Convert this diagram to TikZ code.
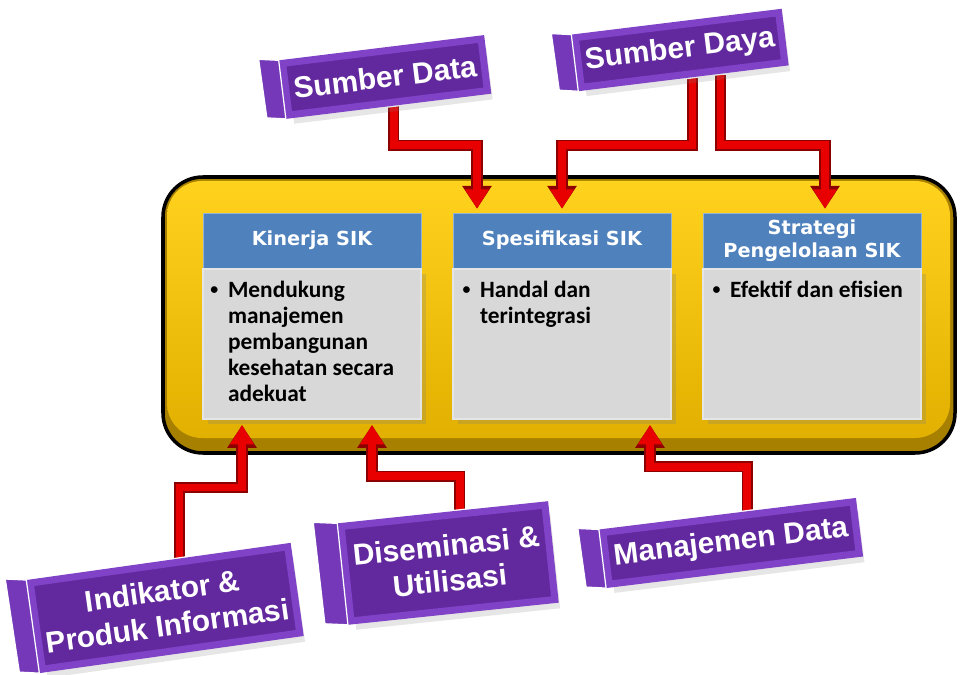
\documentclass[tikz,border=0pt]{standalone}
\usepackage{fontspec}
\setmainfont{Carlito}
\newfontfamily\headfont{DejaVu Sans}
\newfontfamily\boxfont{Liberation Sans}
\usetikzlibrary{calc,positioning,arrows.meta,shadows}

\definecolor{goldA}{RGB}{255,210,30}
\definecolor{goldB}{RGB}{226,176,0}
\definecolor{goldC}{RGB}{168,128,0}
\definecolor{headblue}{RGB}{79,129,189}
\definecolor{bodygray}{RGB}{216,216,216}
\definecolor{arrowred}{RGB}{232,0,0}
\definecolor{arrowdark}{RGB}{140,0,0}
\definecolor{bevel}{RGB}{128,66,198}
\definecolor{plate}{RGB}{98,40,158}
\definecolor{slabpurple}{RGB}{116,56,184}

\newcommand{\bul}{\makebox[10pt][l]{\raisebox{1.3pt}{\fontsize{9}{9}\selectfont\textbullet}}}
\newcommand{\ind}{\hspace*{10pt}}

\pgfdeclarelayer{bg}
\pgfdeclarelayer{mid}
\pgfsetlayers{bg,mid,main}

\begin{document}
\begin{tikzpicture}[x=0.02cm,y=-0.02cm,
	head/.style={rectangle,fill=headblue,draw=headblue!60!white,minimum width=4.36cm,
		minimum height=1.1cm,inner sep=0pt,align=center,text=white,
		font=\headfont\bfseries\fontsize{11}{13}\selectfont},
	body/.style={rectangle,fill=bodygray,draw=white!80!gray,line width=1pt,
		minimum width=4.36cm,minimum height=3cm,inner sep=0pt,
		drop shadow={opacity=0.25,shadow xshift=3pt,shadow yshift=-3pt}},
	point/.style={anchor=north west,inner sep=0pt,align=left,
		font=\bfseries\fontsize{13.3}{14.8}\selectfont},
	plaque/.style={rectangle,fill=plate,draw=bevel,line width=4pt,
		preaction={draw=white,line width=5.5pt},inner sep=2pt,align=center,text=white,
		font=\boxfont\bfseries\fontsize{17}{20}\selectfont,
		drop shadow={opacity=0.2,shadow xshift=3pt,shadow yshift=-5pt}},
	slab/.style={fill=slabpurple,draw=white,line width=0.7pt,line join=round},
	flow/.style={draw=arrowred,line width=4.5pt,line join=miter,
		-{Triangle[width=13pt,length=11pt]},
		preaction={draw=arrowdark,line width=6.5pt,-{Triangle[width=16pt,length=13pt]}}}]

	\useasboundingbox (0,0) rectangle (960,675);

	% yellow frame
	\begin{pgfonlayer}{bg}
		\draw[fill=goldC,line width=2pt,rounded corners=0.8cm] (163,177) rectangle (955,453);
		\shade[top color=goldA,bottom color=goldB,rounded corners=0.7cm] (167,181) rectangle (950,438);
	\end{pgfonlayer}

	% three panels
	\node[head] (kin) at (312,240.5) {Kinerja SIK};
	\node[body,below=0pt of kin] (kinb) {};
	\node[point] (kint) at ($(kinb.north west)+(8,12)$)
		{\bul Mendukung\\\ind manajemen\\\ind pembangunan\\\ind kesehatan secara\\\ind adekuat};

	\node[head] (spek) at (562,240.5) {Spesifikasi SIK};
	\node[body,below=0pt of spek] (spekb) {};
	\node[point] (spekt) at ($(spekb.north west)+(10,12)$)
		{\bul Handal dan\\\ind terintegrasi};

	\node[head] (strat) at (812,240.5) {Strategi\\Pengelolaan SIK};
	\node[body,below=0pt of strat] (stratb) {};
	\node[point] (stratt) at ($(stratb.north west)+(10,12)$)
		{\bul Efektif dan efisien};

	% purple plaques
	\node[plaque,rotate=7,minimum width=4.0cm,minimum height=1.04cm] (sdata) at (385,77) {Sumber Data};
	\path[slab] (sdata.north west) -- ++(-20,-1) -- ($(sdata.south west)+(-19,-1)$) -- (sdata.south west) -- cycle;

	\node[plaque,rotate=7,minimum width=4.1cm,minimum height=1.0cm] (sdaya) at (680,50) {Sumber Daya};
	\path[slab] (sdaya.north west) -- ++(-20,-1) -- ($(sdaya.south west)+(-19,-1)$) -- (sdaya.south west) -- cycle;

	\node[plaque,rotate=8,minimum width=5.2cm,minimum height=1.74cm] (indik) at (165,608) {Indikator \&\\Produk Informasi};
	\path[slab] (indik.north west) -- ++(-21,-1) -- ($(indik.south west)+(-20,-1)$) -- (indik.south west) -- cycle;

	\node[plaque,rotate=6,minimum width=4.1cm,minimum height=1.9cm] (disem) at (448,563) {Diseminasi \&\\Utilisasi};
	\path[slab] (disem.north west) -- ++(-24,-1) -- ($(disem.south west)+(-23,-1)$) -- (disem.south west) -- cycle;

	\node[plaque,rotate=7,minimum width=5.04cm,minimum height=1.04cm] (manaj) at (731,543) {Manajemen Data};
	\path[slab] (manaj.north west) -- ++(-21,-1) -- ($(manaj.south west)+(-20,-1)$) -- (manaj.south west) -- cycle;

	% red connectors
	\begin{pgfonlayer}{mid}
		\draw[flow] ($(sdata.south)+(5,0)$) -- ++(0,39) -| ($(spek.north)+(-85,-4)$);
		\draw[flow] ($(sdaya.south)+(9,0)$) -- ++(0,67) -| ($(spek.north)+(0,-4)$);
		\draw[flow] ($(sdaya.south)+(37,-3)$) -- ++(0,70) -| ($(strat.north)+(13,-4)$);
		\draw[flow] ($(indik.north)+(21,-2)$) -- ++(0,-72) -| ($(kinb.south)+(-70,5)$);
		\draw[flow] ($(disem.north)+(17,-2)$) -- ++(0,-34) -| ($(kinb.south)+(60,5)$);
		\draw[flow] ($(manaj.north)+(20,-2)$) -- ++(0,-45) -| ($(spekb.south)+(88,5)$);
	\end{pgfonlayer}
\end{tikzpicture}
\end{document}
